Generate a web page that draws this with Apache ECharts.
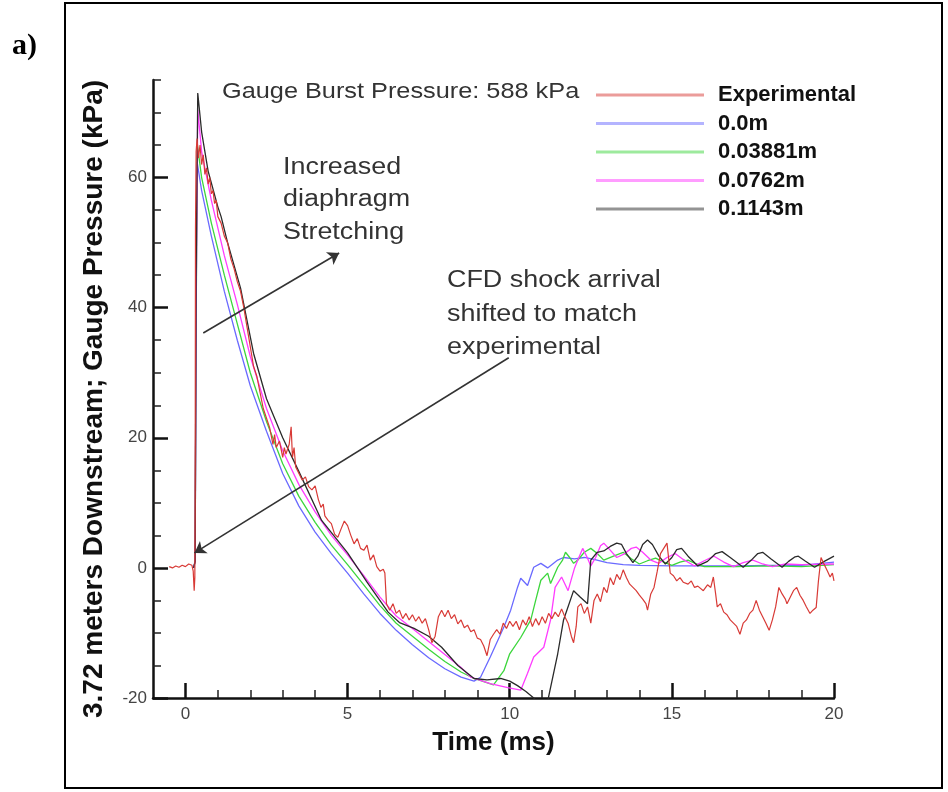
<!DOCTYPE html>
<html>
<head>
    <meta charset="utf-8">
    <script src="https://cdn.jsdelivr.net/npm/echarts@6/dist/echarts.min.js"></script>
    <title>Gauge pressure 3.72 m downstream</title>
    <style>
        * { margin: 0; padding: 0; }
        body { background: #fff; }
        #view { width: 948px; height: 792px; }
    </style>
</head>
<body>
    <div id="view"></div>
    <script>
        // experimental trace (time in ms, gauge pressure in kPa)
        var timeExp = [
            -0.5, -0.4, -0.3, -0.2, -0.1, 0.0, 0.1, 0.15, 0.2, 0.24,
            0.27, 0.29, 0.3, 0.31, 0.33, 0.36, 0.4, 0.45, 0.5, 0.55,
            0.6, 0.65, 0.7, 0.75, 0.8, 0.85, 0.9, 0.95, 1.0, 1.1,
            1.2, 1.3, 1.4, 1.5, 1.6, 1.7, 1.8, 1.9, 2.0, 2.1,
            2.2, 2.3, 2.4, 2.5, 2.6, 2.7, 2.75, 2.8, 2.9, 3.0,
            3.05, 3.1, 3.2, 3.26, 3.3, 3.35, 3.4, 3.5, 3.6, 3.7,
            3.8, 3.9, 4.0, 4.1, 4.18, 4.25, 4.3, 4.4, 4.5, 4.6,
            4.7, 4.8, 4.9, 5.0, 5.1, 5.2, 5.3, 5.4, 5.5, 5.6,
            5.7, 5.8, 5.9, 6.0, 6.1, 6.15, 6.2, 6.3, 6.4, 6.5,
            6.6, 6.7, 6.8, 6.9, 7.0, 7.1, 7.2, 7.3, 7.4, 7.5,
            7.6, 7.7, 7.8, 7.9, 8.0, 8.1, 8.2, 8.3, 8.4, 8.5,
            8.6, 8.7, 8.8, 8.9, 9.0, 9.1, 9.2, 9.3, 9.4, 9.5,
            9.6, 9.7, 9.8, 9.9, 10.0, 10.1, 10.2, 10.3, 10.4, 10.5,
            10.6, 10.7, 10.8, 10.9, 11.0, 11.1, 11.2, 11.3, 11.4, 11.5,
            11.6, 11.7, 11.8, 11.9, 11.97, 12.05, 12.1, 12.2, 12.3, 12.4,
            12.5, 12.6, 12.7, 12.8, 12.9, 13.0, 13.1, 13.2, 13.3, 13.4,
            13.5, 13.6, 13.7, 13.8, 13.9, 14.0, 14.1, 14.2, 14.25, 14.35,
            14.45, 14.55, 14.65, 14.75, 14.85, 14.95, 15.05, 15.15, 15.25, 15.35,
            15.5, 15.6, 15.7, 15.8, 15.97, 16.1, 16.2, 16.28, 16.35, 16.4,
            16.5, 16.6, 16.7, 16.8, 16.9, 17.0, 17.1, 17.2, 17.3, 17.4,
            17.5, 17.6, 17.7, 17.8, 17.9, 18.0, 18.1, 18.2, 18.3, 18.4,
            18.5, 18.55, 18.65, 18.75, 18.85, 18.95, 19.05, 19.15, 19.26, 19.35,
            19.45, 19.52, 19.6, 19.7, 19.8, 19.88, 19.95, 20.0
        ];
        var pressExp = [
            0.2, 0.0, 0.3, 0.1, 0.4, 0.2, 0.6, 0.3, 0.4, -0.5,
            -3.5, -1.5, 10, 52, 64, 66, 63, 65, 62, 63.5,
            60.5, 61.5, 59, 60, 57.5, 58, 56, 56.5, 54, 53,
            51, 50, 47.5, 46, 44, 42.5, 40, 37, 34, 31,
            29.5, 27, 24.5, 23, 21.5, 19, 20.5, 18.5, 19.5, 17,
            18.5, 17.5, 19, 21.7, 17, 18.5, 15.5, 14.5, 13.5, 14,
            12.5, 12, 12.6, 10.5, 9.3, 9.8, 8, 7.3, 6.8, 5.2,
            4.7, 6, 7.2, 6.5, 5, 3.7, 4.5, 3, 2.7, 3.5,
            1.2, 2, 0.2, -0.5, -0.2, -0.8, -5.5, -6.5, -5.5, -7,
            -6.5, -7.8, -7, -8, -7.2, -8.2, -7.5, -8.5, -7.8, -9.5,
            -11.5, -10.5, -7.5, -6.5, -7.5, -6.5, -7.8, -7.2, -8.6, -8,
            -9.2, -8.8, -9.8, -9.5, -10.8, -11, -12, -13.5, -11, -10.2,
            -9.5, -10.2, -8.5, -9.3, -8.2, -9, -8.2, -9.5, -8, -8.8,
            -7.5, -9, -7.8, -8.8, -7.5, -8.5, -7, -7.8, -6.8, -7.5,
            -6.3, -7.5, -8.5, -10.5, -11.5, -9, -6, -5.5, -7, -6,
            -8.5, -5, -4, -5.2, -3, -3.8, -1.5, -2.6, -1, -1.8,
            -0.3, -1.5, -2.5, -3, -3.5, -4.2, -4.8, -5.5, -6.5, -4,
            -3, -0.5, 2.2, 3, 3.8, -0.8, -1.2, -2, -1.5, -2.2,
            -2.5, -2, -3, -2.8, -3.5, -2.6, -3, -1.4, -4, -6,
            -5.5, -6.8, -7.2, -8, -8.5, -9, -10.2, -8.5, -8, -7,
            -6.5, -5, -6.5, -7.5, -8.5, -9.6, -8, -6, -3, -4,
            -4.8, -5.5, -4.5, -3.5, -3, -4.2, -5, -6, -7, -6.5,
            -6.1, -2, 1.6, 0.5, -0.5, -1.4, -0.8, -2
        ];

        // CFD, diaphragm stretch 0.0 m
        var timeCfd0 = [0.25, 0.3, 0.33, 0.36, 0.5, 0.8, 1.2, 1.6, 2.0, 2.5,
            3.0, 3.5, 4.0, 4.5, 5.0, 5.5, 6.0, 6.5, 7.0, 7.5,
            8.0, 8.5, 8.9, 9.1, 9.4, 9.82, 10.03, 10.24, 10.34, 10.55,
            10.74, 10.96, 11.17, 11.48, 11.66, 12.0, 12.3, 12.6, 13.0, 13.5,
            14.0, 15.0, 16.0, 17.0, 18.0, 19.0, 20.0];
        var pressCfd0 = [0, 1, 40, 62.4, 58, 51, 42.5, 35, 28, 21,
            14.5, 9.5, 5.5, 2.2, -0.8, -4, -7, -9.6, -11.8, -13.8,
            -15.5, -16.8, -17.4, -16.8, -13.7, -9.1, -6.5, -3, -1.6, -2.7,
            0.1, 0.7, 0, 1.2, 1.6, 1.4, 1.6, 1.3, 0.8, 0.5,
            0.4, 0.3, 0.3, 0.3, 0.4, 0.4, 0.9];

        // CFD, 0.03881 m
        var timeCfd1 = [0.25, 0.3, 0.33, 0.37, 0.5, 0.8, 1.2, 1.6, 2.0, 2.5,
            3.0, 3.5, 4.0, 4.5, 5.0, 5.5, 6.0, 6.5, 7.0, 7.5,
            8.0, 8.5, 8.9, 9.5, 9.82, 10.0, 10.34, 10.65, 10.8, 10.96,
            11.17, 11.26, 11.48, 11.63, 11.72, 11.85, 11.97, 12.1, 12.3, 12.5,
            12.7, 12.9, 13.2, 13.5, 13.75, 14.0, 14.25, 14.5, 14.75, 15.0,
            15.25, 15.5, 15.75, 16.0, 17.0, 18.0, 19.0, 20.0];
        var pressCfd1 = [0, 1, 38, 65, 60, 53, 45, 37.5, 30, 22.5,
            16, 11, 7, 3.5, 0.5, -2.6, -5.8, -8.5, -10.5, -12.5,
            -14.4, -16, -17, -18, -15.8, -13.2, -10.7, -8, -5, -1.9,
            -0.8, -2.4, 0.1, 1.2, 2.4, 1.6, 0.7, 1.2, 2.4, 3.0,
            2.2, 1.2, 1.8, 2.4, 1.4, 0.6, 1.1, 1.5, 0.9, 0.4,
            0.9, 1.2, 0.6, 0.2, 0.2, 0.3, 0.2, 0.5];

        // CFD, 0.0762 m
        var timeCfd2 = [0.25, 0.3, 0.33, 0.38, 0.5, 0.8, 1.2, 1.6, 2.0, 2.5,
            3.0, 3.5, 4.0, 4.5, 5.0, 5.5, 6.0, 6.5, 7.0, 7.5,
            8.0, 8.5, 8.8, 9.4, 9.94, 10.34, 10.55, 10.74, 11.05, 11.26,
            11.4, 11.6, 11.8, 12.0, 12.1, 12.25, 12.4, 12.5, 12.65, 12.8,
            12.9, 13.05, 13.3, 13.55, 13.75, 13.9, 14.1, 14.35, 14.6, 14.85,
            15.1, 15.35, 15.7, 16.0, 16.3, 16.6, 16.9, 17.2, 17.5, 17.8,
            18.1, 18.5, 19.0, 20.0];
        var pressCfd2 = [0, 1, 40, 70.4, 64, 56.5, 48, 40.5, 32.5, 24.5,
            18, 12.8, 8.6, 5, 2, -1.2, -4.5, -7.4, -9.3, -11.3,
            -13.3, -15.3, -16.8, -17.8, -18.4, -18.8, -16.2, -13.7, -12.2, -8,
            -3, -1.4, -3.5, 0, 1.2, 3.0, 1.5, 0.3, 1.6, 3.4,
            3.8, 3.0, 1.6, 2.2, 3.0, 3.2, 2.4, 1.2, 0.7, 1.6,
            2.2, 1.3, 0.3, 1.1, 1.8, 0.9, 0.2, 0.8, 1.2, 0.6,
            0.2, 0.6, 0.5, 0.6];

        // CFD, 0.1143 m
        var timeCfd3 = [0.25, 0.3, 0.33, 0.38, 0.5, 0.7, 1.0, 1.1, 1.3, 1.7,
            2.1, 2.5, 3.0, 3.5, 4.2, 5.0, 5.6, 6.25, 6.6, 7.05,
            7.5, 7.9, 8.4, 8.9, 9.3, 9.72, 10.0, 10.24, 10.5, 10.74,
            11.0, 11.17, 11.48, 11.66, 11.97, 12.18, 12.4, 12.5, 12.7, 12.9,
            13.1, 13.3, 13.45, 13.6, 13.8, 13.95, 14.1, 14.25, 14.4, 14.6,
            14.8, 15.0, 15.15, 15.3, 15.5, 15.8, 16.1, 16.35, 16.55, 16.8,
            17.2, 17.45, 17.65, 17.8, 18.05, 18.4, 18.6, 18.8, 18.9, 19.1,
            19.4, 19.7, 20.0];
        var pressCfd3 = [0, 1, 45, 73, 67, 61, 55.5, 54, 50, 43,
            33, 26, 20, 14.8, 7.3, 2.3, -2.2, -6.8, -8.4, -9.3,
            -10.5, -12.2, -15, -17, -17.2, -17, -17.4, -18.1, -19, -20,
            -21.5, -20.5, -13.2, -8, -3.5, -4.5, -5.5, 1.2, 2.4, 2.6,
            3.3, 3.8, 3.6, 2.2, 0.8, 1.8, 3.6, 4.3, 3.6, 1.8,
            0.6, 1.6, 2.8, 3.0, 1.8, 0.3, 1.0, 2.2, 2.5, 1.6,
            0.1, 1.2, 2.2, 2.4, 1.4, 0.1, 1.0, 1.7, 1.8, 1.1,
            0.1, 1.0, 1.8];

        // axis ticks
        var xMajor = [0, 5, 10, 15, 20];
        var xMinor = [1, 2, 3, 4, 6, 7, 8, 9, 11, 12, 13, 14, 16, 17, 18, 19];
        var yMajor = [-20, 0, 20, 40, 60];
        var yMinor = [-15, -10, -5, 5, 10, 15, 25, 30, 35, 45, 50, 55, 65, 70, 75];

        function pairs(t, p) {
            return t.map(function (v, i) { return [v, p[i]]; });
        }

        var view = echarts.init(document.getElementById('view'), null, { renderer: 'canvas' });

        var font = 'Liberation Sans';
        var axisCommon = {
            type: 'value',
            splitLine: { show: false }
        };

        function lineSeries(name, color, width, data) {
            return {
                name: name, type: 'line', symbol: 'none', data: data,
                lineStyle: { color: color, width: width }, itemStyle: { color: color }
            };
        }

        option = {
            animation: false,
            backgroundColor: '#fff',
            grid: { left: 153, top: 80, right: 114, bottom: 94 },
            legend: {
                orient: 'vertical',
                left: 591,
                top: 78,
                icon: 'rect',
                itemWidth: 108,
                itemHeight: 3,
                itemGap: 4.5,
                data: ['Experimental', '0.0m', '0.03881m', '0.0762m', '0.1143m'],
                itemStyle: { opacity: 0.5 },
                textStyle: {
                    fontFamily: font, fontWeight: 'bold', fontSize: 22,
                    color: '#111', lineHeight: 24, padding: [0, 0, 0, 9]
                },
                selectedMode: false
            },
            xAxis: [
                Object.assign({}, axisCommon, {
                    min: -1, max: 20,
                    position: 'bottom',
                    name: 'Time (ms)',
                    nameLocation: 'middle',
                    nameGap: 32,
                    nameTextStyle: { fontFamily: font, fontWeight: 'bold', fontSize: 26, color: '#111' },
                    axisLine: { show: true, onZero: false, lineStyle: { color: '#111', width: 2.5 } },
                    axisTick: { show: true, inside: true, length: 15, customValues: xMajor, lineStyle: { color: '#111', width: 2.5 } },
                    axisLabel: { customValues: xMajor, fontFamily: font, fontSize: 17, color: '#444', margin: 8 }
                }),
                Object.assign({}, axisCommon, {
                    min: -1, max: 20,
                    position: 'bottom',
                    axisLine: { show: false, onZero: false },
                    axisTick: { show: true, inside: true, length: 8, customValues: xMinor, lineStyle: { color: '#222', width: 1.5 } },
                    axisLabel: { show: false }
                })
            ],
            yAxis: [
                Object.assign({}, axisCommon, {
                    min: -20, max: 75,
                    position: 'left',
                    name: '3.72 meters Downstream; Gauge Pressure (kPa)',
                    nameLocation: 'middle',
                    nameRotate: 90,
                    nameGap: 45,
                    nameTextStyle: {
                        fontFamily: font, fontWeight: 'bold', fontSize: 28, color: '#111',
                        padding: [0, 20, 0, 0]
                    },
                    axisLine: { show: true, onZero: false, lineStyle: { color: '#111', width: 2.5 } },
                    axisTick: { show: true, inside: true, length: 15, customValues: yMajor, lineStyle: { color: '#111', width: 2.5 } },
                    axisLabel: { customValues: yMajor, fontFamily: font, fontSize: 17, color: '#444', margin: 6 }
                }),
                Object.assign({}, axisCommon, {
                    min: -20, max: 75,
                    position: 'left',
                    axisLine: { show: false, onZero: false },
                    axisTick: { show: true, inside: true, length: 8, customValues: yMinor, lineStyle: { color: '#222', width: 1.5 } },
                    axisLabel: { show: false }
                })
            ],
            series: [
                lineSeries('0.0m', '#6a6aff', 1.3, pairs(timeCfd0, pressCfd0)),
                lineSeries('0.03881m', '#3cd63c', 1.3, pairs(timeCfd1, pressCfd1)),
                lineSeries('0.0762m', '#ff3cff', 1.3, pairs(timeCfd2, pressCfd2)),
                lineSeries('0.1143m', '#2a2a2a', 1.3, pairs(timeCfd3, pressCfd3)),
                lineSeries('Experimental', '#d83a36', 1.2, pairs(timeExp, pressExp)),
                {
                    // annotation arrows
                    name: 'arrows', type: 'line', data: [],
                    markLine: {
                        silent: true,
                        symbol: ['none', 'arrow'],
                        symbolSize: 11,
                        label: { show: false },
                        lineStyle: { color: '#333', width: 1.6, type: 'solid' },
                        data: [
                            [{ coord: [0.55, 36.1] }, { coord: [4.74, 48.4] }],
                            [{ coord: [9.97, 32.3] }, { coord: [0.28, 2.3] }]
                        ]
                    }
                }
            ],
            graphic: [
                {
                    type: 'rect', silent: true,
                    shape: { x: 65, y: 3, width: 877, height: 785 },
                    style: { fill: 'none', stroke: '#000', lineWidth: 2 }
                },
                {
                    type: 'text', x: 12, y: 46,
                    style: { text: 'a)', font: 'bold 30px "Liberation Serif"', fill: '#000', verticalAlign: 'middle' }
                },
                {
                    type: 'text', x: 222, y: 92, scaleX: 1.15,
                    style: { text: 'Gauge Burst Pressure: 588 kPa', font: '22px "Liberation Sans"', fill: '#333', verticalAlign: 'middle' }
                },
                {
                    type: 'text', x: 283, y: 151, scaleX: 1.17,
                    style: { text: 'Increased\ndiaphragm\nStretching', font: '23px "Liberation Sans"', lineHeight: 32.5, fill: '#333' }
                },
                {
                    type: 'text', x: 447, y: 264, scaleX: 1.17,
                    style: { text: 'CFD shock arrival\nshifted to match\nexperimental', font: '23px "Liberation Sans"', lineHeight: 33.5, fill: '#333' }
                }
            ]
        };
        view.setOption(option);
    </script>
</body>
</html>
